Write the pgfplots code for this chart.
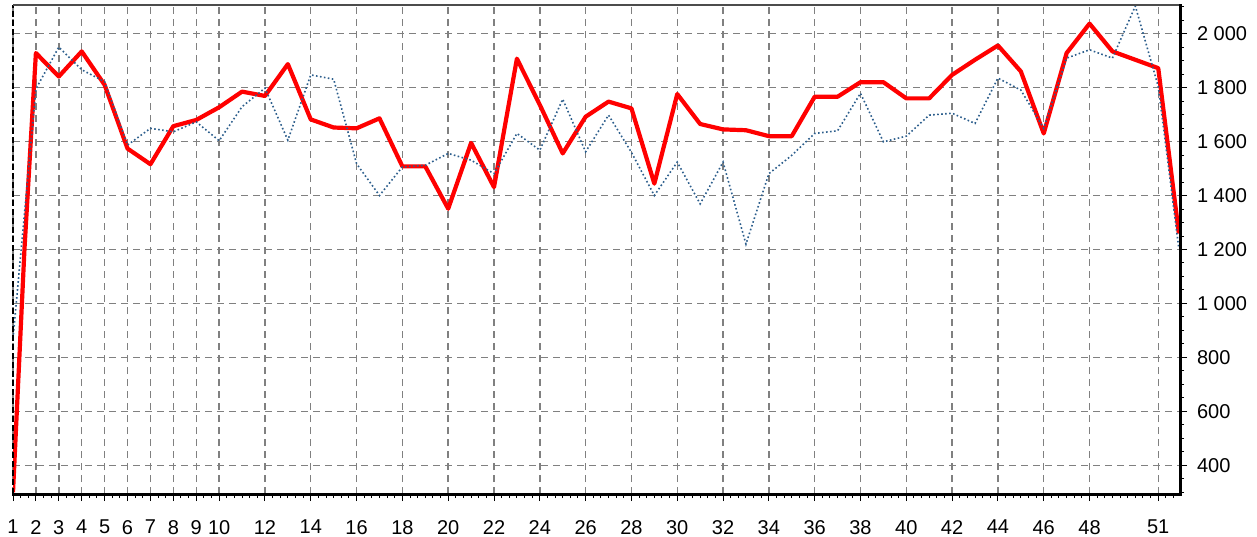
\documentclass[border=0pt]{standalone}
\usepackage{fontspec}
\setmainfont{Liberation Sans}
\usepackage{pgfplots}
\pgfplotsset{compat=1.18}
\definecolor{redline}{RGB}{255,0,0}
\definecolor{blueline}{RGB}{44,94,140}
\definecolor{gridgray}{RGB}{128,128,128}
\begin{document}
\begin{tikzpicture}
\begin{axis}[
  at={(0,0)}, anchor=south west,
  scale only axis, width=583.5pt, height=244.5pt,
  xmin=1, xmax=51.95, ymin=294, ymax=2106,
  axis line style={draw=none},
  xtick={1,2,...,10,12,14,...,48,51},
  minor xtick={1,1.333333,...,51.9},
  ytick={400,600,...,2000},
  minor ytick={300,350,...,2100},
  xtick pos=bottom, ytick pos=right, yticklabel pos=right,
  tick align=outside,
  major tick length=3.5pt, minor tick length=2pt,
  every tick/.style={black, line width=0.5pt},
  xmajorgrids, ymajorgrids,
  major grid style={gridgray, line width=0.7pt, dash pattern=on 3.5pt off 2.5pt},
  xticklabel style={font=\fontsize{10}{11}\selectfont, yshift=-6pt},
  yticklabel style={font=\fontsize{10}{11}\selectfont, anchor=west, xshift=1.5pt},
  /pgf/number format/assume math mode=true,
  /pgf/number format/1000 sep={\ },
]
\addplot[redline, line width=2.1pt, line join=round] coordinates {
(1,300)(1.5,1200)(2,1928)(3,1841)(4,1934)(5,1810)(6,1574)(7,1516)(8,1657)(9,1680)(10,1727)
(11,1785)(12,1769)(13,1887)(14,1682)(15,1652)(16,1649)(17,1686)(18,1508)(19,1508)(20,1351)
(21,1595)(22,1431)(23,1907)(24,1736)(25,1556)(26,1692)(27,1748)(28,1723)(29,1444)(30,1776)
(31,1665)(32,1645)(33,1642)(34,1620)(35,1620)(36,1766)(37,1766)(38,1820)(39,1820)(40,1760)
(41,1760)(42,1847)(43,1903)(44,1956)(45,1860)(46,1630)(47,1928)(48,2037)(49,1934)(50,1903)
(51,1872)(51.9,1259)
};
\addplot[blueline, line width=0.8pt, dash pattern=on 0.8pt off 1.2pt] coordinates {
(1,870)(2,1795)(3,1950)(4,1866)(5,1822)(6,1587)(7,1649)(8,1636)(9,1673)(10,1603)
(11,1729)(12,1798)(13,1605)(14,1847)(15,1831)(16,1518)(17,1400)(18,1506)(19,1512)(20,1556)
(21,1531)(22,1481)(23,1630)(24,1568)(25,1757)(26,1562)(27,1698)(28,1560)(29,1400)(30,1524)
(31,1369)(32,1524)(33,1220)(34,1481)(35,1549)(36,1630)(37,1640)(38,1779)(39,1599)(40,1620)
(41,1698)(42,1705)(43,1667)(44,1835)(45,1791)(46,1649)(47,1909)(48,1940)(49,1909)(50,2102)
(51,1804)(51.9,1203)
};
\end{axis}
\draw[black, line width=0.9pt, dash pattern=on 3pt off 1.5pt] (0,0) -- (0,244.5pt);
\draw[black!70, line width=0.9pt] (0,244.5pt) -- (583.5pt,244.5pt);
\draw[black, line width=1.5pt] (-0.45pt,0) -- (584.25pt,0);
\draw[black, line width=1.5pt] (583.5pt,-0.75pt) -- (583.5pt,244.95pt);
\pgfresetboundingbox
\useasboundingbox (-6.5pt,-21pt) rectangle (622pt,247pt);
\end{tikzpicture}
\end{document}
